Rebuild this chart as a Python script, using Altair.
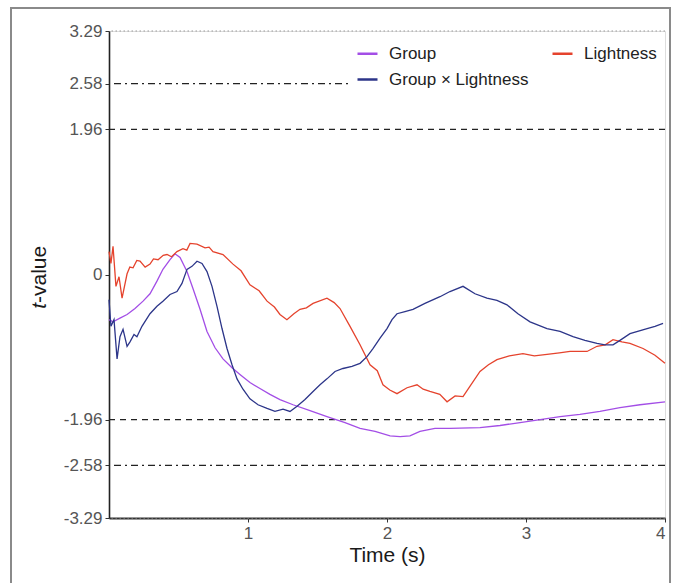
import altair as alt
import pandas as pd

# ---- data ----
group_time = [0, 0.029, 0.079, 0.13, 0.187, 0.245, 0.295, 0.345, 0.388, 0.439, 0.475, 0.511, 0.561, 0.604,
              0.655, 0.705, 0.763, 0.82, 0.885, 0.942, 1.014, 1.086, 1.158, 1.23, 1.324, 1.446, 1.568, 1.698,
              1.806, 1.914, 2.022, 2.094, 2.165, 2.237, 2.345, 2.453, 2.669, 2.813, 2.957, 3.101, 3.245, 3.388,
              3.532, 3.676, 3.82, 4.0]
group_t = [-0.61, -0.64, -0.59, -0.54, -0.46, -0.36, -0.26, -0.09, 0.07, 0.20, 0.28, 0.23, 0.04, -0.19,
           -0.47, -0.77, -0.99, -1.14, -1.26, -1.35, -1.46, -1.54, -1.62, -1.69, -1.76, -1.84, -1.92, -2.00,
           -2.08, -2.12, -2.18, -2.19, -2.18, -2.12, -2.08, -2.08, -2.07, -2.04, -2.00, -1.96, -1.92, -1.89,
           -1.85, -1.80, -1.76, -1.72]

light_time = [0, 0.014, 0.029, 0.05, 0.072, 0.094, 0.13, 0.15, 0.173, 0.2, 0.223, 0.26, 0.295, 0.32, 0.353,
              0.39, 0.417, 0.45, 0.489, 0.532, 0.56,
              0.583, 0.633, 0.691, 0.72, 0.748, 0.82, 0.892, 0.95, 1.014, 1.08, 1.137, 1.19, 1.23, 1.28, 1.33,
              1.374, 1.42, 1.468, 1.568, 1.62, 1.662,
              1.734, 1.806, 1.878, 1.93, 1.971, 2.02, 2.072, 2.144, 2.216, 2.26, 2.309, 2.38, 2.432, 2.49, 2.547,
              2.6, 2.669, 2.73, 2.791, 2.88, 2.978, 3.06, 3.151,
              3.24, 3.317, 3.439, 3.511, 3.57, 3.626, 3.69, 3.748, 3.842, 3.928, 4.0]
light_t = [0.31, 0.15, 0.38, -0.16, -0.03, -0.32, 0.01, 0.10, 0.09, 0.19, 0.18, 0.10, 0.14, 0.21, 0.20,
           0.26, 0.27, 0.24, 0.31, 0.35, 0.33,
           0.42, 0.41, 0.36, 0.37, 0.31, 0.27, 0.14, 0.05, -0.14, -0.22, -0.36, -0.44, -0.54, -0.61, -0.53,
           -0.47, -0.45, -0.39, -0.32, -0.38, -0.46,
           -0.70, -0.95, -1.22, -1.30, -1.49, -1.56, -1.61, -1.53, -1.49, -1.55, -1.58, -1.62, -1.72, -1.64, -1.65,
           -1.50, -1.31, -1.22, -1.15, -1.10, -1.07, -1.10, -1.08,
           -1.06, -1.04, -1.04, -0.97, -0.95, -0.88, -0.91, -0.93, -1.00, -1.09, -1.20]

inter_time = [0, 0.014, 0.036, 0.058, 0.079, 0.101, 0.13, 0.151, 0.18, 0.201, 0.237, 0.295, 0.345, 0.388,
              0.439, 0.489, 0.525, 0.561, 0.597, 0.633, 0.669, 0.705, 0.741, 0.777, 0.813, 0.849, 0.885, 0.921,
              0.964, 1.014, 1.072, 1.137, 1.194, 1.252, 1.302, 1.353, 1.41, 1.468, 1.518, 1.568, 1.626, 1.683,
              1.748, 1.806, 1.856, 1.899, 1.95, 2.0, 2.036, 2.072, 2.129, 2.187, 2.273, 2.381, 2.453, 2.547,
              2.633, 2.719, 2.791, 2.863, 2.942, 3.029, 3.151, 3.245, 3.338, 3.424, 3.511, 3.568, 3.626, 3.676,
              3.748, 3.871, 3.928, 3.986]
inter_t = [-0.34, -0.70, -0.61, -1.14, -0.84, -0.74, -0.97, -0.91, -0.81, -0.84, -0.70, -0.53, -0.43, -0.36,
           -0.27, -0.23, -0.12, 0.07, 0.11, 0.18, 0.15, 0.04, -0.16, -0.43, -0.73, -1.00, -1.22, -1.41,
           -1.55, -1.68, -1.76, -1.81, -1.85, -1.82, -1.85, -1.78, -1.69, -1.58, -1.49, -1.41, -1.31, -1.27,
           -1.24, -1.20, -1.11, -1.00, -0.86, -0.73, -0.61, -0.53, -0.50, -0.47, -0.39, -0.30, -0.23, -0.16,
           -0.26, -0.32, -0.35, -0.41, -0.53, -0.64, -0.73, -0.77, -0.84, -0.89, -0.93, -0.95, -0.95, -0.89,
           -0.80, -0.73, -0.70, -0.66]

series_names = ["Group", "Group \u00d7 Lightness", "Lightness"]
series_colors = ["#a34ee6", "#2c3589", "#e5432d"]

y_ticks = [-3.29, -2.58, -1.96, 0, 1.96, 2.58, 3.29]
x_ticks = [1, 2, 3, 4]
dotted_levels = [3.29, -3.29]
dashdot_levels = [2.58, -2.58]
dashed_levels = [1.96, -1.96]

rows = []
for name, ts, vs in [("Group", group_time, group_t),
                     ("Lightness", light_time, light_t),
                     ("Group \u00d7 Lightness", inter_time, inter_t)]:
    for i, (a, b) in enumerate(zip(ts, vs)):
        rows.append({"series": name, "time": a, "t": b, "order": i})
df = pd.DataFrame(rows)

FONT = "Liberation Sans"
xscale = alt.Scale(domain=[0, 4], nice=False, zero=False)
yscale = alt.Scale(domain=[-3.29, 3.29], nice=False, zero=False)

def ref_layer(levels, dash, color, width):
    return alt.Chart(pd.DataFrame({"y": levels})).mark_rule(
        strokeDash=dash, color=color, strokeWidth=width
    ).encode(y=alt.Y("y:Q", scale=yscale))

dotted = ref_layer(dotted_levels, [1.5, 2.5], "#9a9a9a", 1.2)
dashdot = ref_layer(dashdot_levels, [7, 4, 2, 4], "#222222", 1.3)
dashed = ref_layer(dashed_levels, [6, 5], "#222222", 1.3)

lines = alt.Chart(df).mark_line(strokeWidth=1.3).encode(
    x=alt.X("time:Q", scale=xscale,
            axis=alt.Axis(values=x_ticks, title="Time (s)", grid=False, labelFontSize=17,
                          labelColor="#555555", titleFontSize=21, titleColor="#1a1a1a",
                          titleFontWeight="normal", titleFont=FONT, labelFont=FONT,
                          domainColor="#333333", domainWidth=2, tickColor="#333333",
                          tickSize=4, titlePadding=3, labelPadding=3)),
    y=alt.Y("t:Q", scale=yscale,
            axis=alt.Axis(values=y_ticks, title=None, grid=False, labelFontSize=17,
                          labelColor="#555555", labelFont=FONT,
                          labelExpr="datum.value == 0 ? '0' : toString(datum.value)",
                          domainColor="#222222", domainWidth=1.6, tickColor="#333333",
                          tickSize=4, labelPadding=3)),
    color=alt.Color("series:N",
                    scale=alt.Scale(domain=series_names, range=series_colors),
                    legend=alt.Legend(title=None, orient="none", legendX=239, legendY=3,
                                      columns=2, columnPadding=18, rowPadding=6,
                                      symbolType="stroke", symbolSize=400, symbolStrokeWidth=2.5,
                                      labelFontSize=17, labelFont=FONT, labelColor="#222222",
                                      labelOffset=10, fillColor="white", padding=8)),
    order="order:Q",
)

ytitle_t = alt.Chart(pd.DataFrame({"s": ["t"]})).mark_text(
    angle=270, align="right", baseline="middle", fontSize=21, fontStyle="italic",
    font=FONT, color="#1a1a1a"
).encode(text="s:N", x=alt.value(-69), y=alt.value(272))

ytitle_rest = alt.Chart(pd.DataFrame({"s": ["-value"]})).mark_text(
    angle=270, align="left", baseline="middle", fontSize=21,
    font=FONT, color="#1a1a1a"
).encode(text="s:N", x=alt.value(-69), y=alt.value(272))

frame = alt.Chart(pd.DataFrame({"a": [0]})).mark_rect(
    filled=False, stroke="#8a8a8a", strokeWidth=2
).encode(x=alt.value(-98), x2=alt.value(561), y=alt.value(-23), y2=alt.value(560))

chart = alt.layer(dotted, dashdot, dashed, lines, ytitle_t, ytitle_rest, frame).properties(
    width=556, height=487,
    padding={"left": 109, "top": 31, "right": 8, "bottom": 65},
    autosize=alt.AutoSizeParams(type="none"),
).configure_view(stroke=None).configure(background="white")

chart.save("out.html", embed_options={"renderer": "svg", "actions": False})
